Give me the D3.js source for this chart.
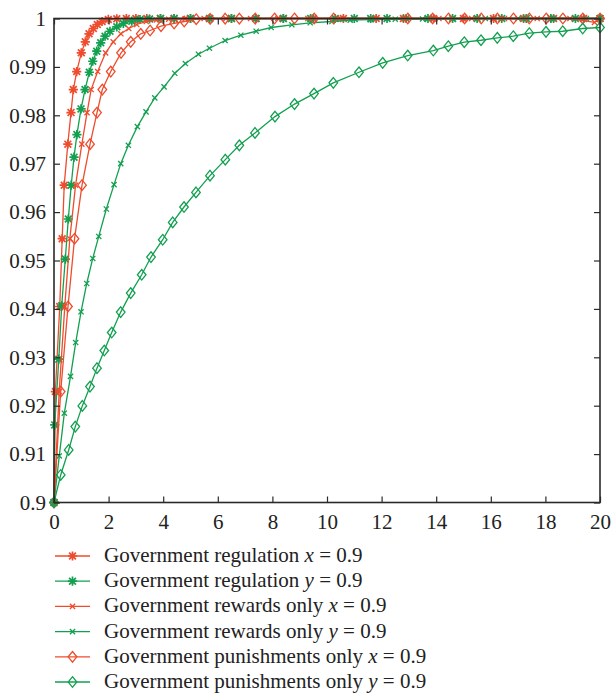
<!DOCTYPE html>
<html>
<head>
<meta charset="utf-8">
<script src="https://cdn.jsdelivr.net/npm/d3@7"></script>
<style>
  body { margin: 0; background: #fff; }
  svg text { font-family: "Liberation Serif", "Times New Roman", serif; fill: #222; }
</style>
</head>
<body>
<div id="chart"></div>
<script>
// values (time t, share v)
const regX_t = [0, 0.05, 0.21, 0.30, 0.374, 0.506, 0.623, 0.708, 0.832, 1.0, 1.147, 1.283, 1.44, 1.587, 1.76, 1.99, 2.3, 2.65, 3.0, 3.4, 3.9, 4.4, 5.0, 5.7, 6.5, 7.4, 8.4, 9.5, 10.6, 11.8, 12.8, 13.9, 15.0, 16.1, 17.2, 18.3, 19.4, 20];
const regX_v = [0.9, 0.92292, 0.9405, 0.9545, 0.96556, 0.97404, 0.98056, 0.98532, 0.98904, 0.99291, 0.99518, 0.99684, 0.99793, 0.99876, 0.99938, 0.9998, 0.99995, 1, 1, 1, 1, 1, 1, 1, 1, 1, 1, 1, 1, 1, 1, 1, 1, 1, 1, 1, 1, 1];

const regY_t = [0, 0.026, 0.176, 0.282, 0.414, 0.524, 0.630, 0.733, 0.839, 0.99, 1.136, 1.294, 1.419, 1.565, 1.71, 1.87, 2.05, 2.30, 2.54, 2.85, 3.15, 3.5, 3.9, 4.4, 5.0, 5.7, 6.5, 7.4, 8.4, 9.4, 10.3, 11.0, 11.6, 12.2, 12.9, 13.7, 14.6, 15.5, 16.4, 17.3, 18.2, 19.1, 20];
const regY_v = [0.9, 0.91603, 0.92962, 0.94064, 0.9503, 0.95857, 0.96556, 0.97135, 0.97601, 0.98132, 0.98532, 0.98889, 0.99117, 0.99324, 0.99498, 0.99634, 0.99737, 0.99828, 0.99897, 0.99944, 0.99979, 0.9999, 1, 1, 1, 1, 1, 1, 1, 1, 1, 1, 1, 1, 1, 1, 1, 1, 1, 1, 1, 1, 1];

const rewX_t = [0, 0.19, 0.395, 0.58, 0.79, 1.02, 1.21, 1.36, 1.6, 1.89, 2.17, 2.45, 2.74, 3.03, 3.38, 3.75, 4.2, 4.8, 5.5, 6.3, 7.2, 8.2, 9.3, 10.5, 11.7, 12.9, 14.1, 15.3, 16.5, 17.7, 18.9, 19.8, 20];
const rewX_v = [0.9, 0.92292, 0.9405, 0.9545, 0.96556, 0.97404, 0.98056, 0.98532, 0.98904, 0.99291, 0.99518, 0.99684, 0.99793, 0.99876, 0.99938, 0.9997, 0.99985, 0.99993, 1, 1, 1, 1, 1, 1, 1, 1, 1, 1, 1, 1, 1, 0.9992, 1];

const rewY_t = [0, 0.194, 0.378, 0.605, 0.795, 0.990, 1.199, 1.419, 1.639, 1.917, 2.199, 2.445, 2.724, 3.054, 3.372, 3.691, 4.032, 4.424, 4.813, 5.29, 5.693, 6.268, 6.844, 7.405, 7.955, 8.713, 9.384, 10.18, 10.85, 11.6, 12.5, 13.5, 14.6, 15.8, 17.0, 18.3, 19.5, 20];
const rewY_v = [0.9, 0.90962, 0.91845, 0.92606, 0.93305, 0.9394, 0.94525, 0.95042, 0.95497, 0.96064, 0.96567, 0.97001, 0.9738, 0.97766, 0.9807, 0.9836, 0.98587, 0.98869, 0.99069, 0.99262, 0.99386, 0.99545, 0.99655, 0.99737, 0.99814, 0.9987, 0.99911, 0.99938, 0.99965, 0.99975, 0.99985, 0.9999, 0.99995, 1, 1, 1, 1, 1];

const punX_t = [0, 0.245, 0.513, 0.752, 1.026, 1.32, 1.576, 1.77, 2.078, 2.456, 2.811, 3.178, 3.52, 3.92, 4.40, 4.77, 5.21, 5.72, 6.27, 6.79, 7.37, 8.08, 8.81, 9.53, 10.24, 12.96, 13.87, 14.45, 15.04, 15.65, 16.24, 16.83, 17.41, 18.03, 18.64, 19.37, 20];
const punX_v = [0.9, 0.92292, 0.9405, 0.9545, 0.96556, 0.97404, 0.98056, 0.98532, 0.98904, 0.99291, 0.99518, 0.99684, 0.99752, 0.99841, 0.99897, 0.99938, 0.99985, 0.99993, 0.99997, 0.99998, 0.99999, 1, 1, 1, 1, 1, 1, 1, 1, 1, 1, 1, 1, 1, 1, 1, 1];

const punY_t = [0, 0.245, 0.538, 0.780, 1.037, 1.319, 1.575, 1.842, 2.114, 2.443, 2.810, 3.212, 3.553, 3.982, 4.348, 4.762, 5.201, 5.714, 6.275, 6.788, 7.363, 8.095, 8.81, 9.524, 10.231, 11.172, 12.04, 12.956, 13.894, 14.443, 15.029, 15.641, 16.238, 16.824, 17.41, 18.022, 18.634, 19.366, 20];
const punY_v = [0.9, 0.90569, 0.91086, 0.91568, 0.91996, 0.92395, 0.92776, 0.9314, 0.93512, 0.93934, 0.94327, 0.94705, 0.95071, 0.95429, 0.95787, 0.96105, 0.96407, 0.96753, 0.97084, 0.9738, 0.97636, 0.97973, 0.98232, 0.98449, 0.9867, 0.98889, 0.99084, 0.99235, 0.99338, 0.99427, 0.9951, 0.99551, 0.99601, 0.99634, 0.99696, 0.99725, 0.99737, 0.99793, 0.99814];

const seriesNames = [
  ["Government regulation ", "x", " = 0.9"],
  ["Government regulation ", "y", " = 0.9"],
  ["Government rewards only ", "x", " = 0.9"],
  ["Government rewards only ", "y", " = 0.9"],
  ["Government punishments only ", "x", " = 0.9"],
  ["Government punishments only ", "y", " = 0.9"]
];
const xTicks = [0, 2, 4, 6, 8, 10, 12, 14, 16, 18, 20];
const yTicks = [0.9, 0.91, 0.92, 0.93, 0.94, 0.95, 0.96, 0.97, 0.98, 0.99, 1];

const red = "#ef4b2d", green = "#12a050";
const series = [
  { t: regX_t, v: regX_v, color: red, marker: "star" },
  { t: regY_t, v: regY_v, color: green, marker: "star" },
  { t: rewX_t, v: rewX_v, color: red, marker: "cross" },
  { t: rewY_t, v: rewY_v, color: green, marker: "cross" },
  { t: punX_t, v: punX_v, color: red, marker: "diamond" },
  { t: punY_t, v: punY_v, color: green, marker: "diamond" }
];

const W = 611, H = 694;
const svg = d3.select("#chart").append("svg").attr("width", W).attr("height", H)
  .attr("font-family", "Liberation Serif, serif");

const x = d3.scaleLinear().domain([0, 20]).range([54, 600]);
const y = d3.scaleLinear().domain([0.9, 1]).range([502.5, 18.5]);

// marker shapes
function markerPath(type) {
  if (type === "star") {
    const r = 4.6, d = 3.4;
    return `M${-r},0H${r}M0,${-r}V${r}M${-d},${-d}L${d},${d}M${-d},${d}L${d},${-d}`;
  }
  if (type === "cross") {
    const r = 2.6;
    return `M${-r},${-r}L${r},${r}M${-r},${r}L${r},${-r}`;
  }
  const w = 4.3, h = 5.3;
  return `M0,${-h}L${w},0L0,${h}L${-w},0Z`;
}

const line = d3.line().x(d => x(d[0])).y(d => y(d[1]));

series.forEach(s => {
  const pts = s.t.map((t, i) => [t, s.v[i]]);
  const g = svg.append("g");
  g.append("path").attr("d", line(pts))
    .attr("fill", "none").attr("stroke", s.color).attr("stroke-width", 1.3);
  g.selectAll("path.m").data(pts).enter().append("path")
    .attr("class", "m")
    .attr("transform", d => `translate(${x(d[0])},${y(d[1])})`)
    .attr("d", markerPath(s.marker))
    .attr("fill", "none").attr("stroke", s.color)
    .attr("stroke-width", s.marker === "star" ? 1.7 : 1.3);
});

// axes and frame
const axisColor = "#2a2a2a";
const xAxis = svg.append("g").attr("transform", `translate(0,${y(0.9)})`)
  .call(d3.axisBottom(x).tickValues(xTicks).tickSize(-6).tickPadding(12).tickFormat(d3.format("d")));
const xAxisTop = svg.append("g").attr("transform", `translate(0,${y(1)})`)
  .call(d3.axisTop(x).tickValues(xTicks).tickSize(-6).tickFormat(""));
const yAxis = svg.append("g").attr("transform", `translate(${x(0)},0)`)
  .call(d3.axisLeft(y).tickValues(yTicks).tickSize(-6).tickPadding(8).tickFormat(d => d === 1 ? "1" : d3.format(".2~f")(d)));
const yAxisRight = svg.append("g").attr("transform", `translate(${x(20)},0)`)
  .call(d3.axisRight(y).tickValues(yTicks).tickSize(-6).tickFormat(""));

[xAxis, xAxisTop, yAxis, yAxisRight].forEach(a => {
  a.attr("font-family", null);
  a.select(".domain").remove();
  a.selectAll(".tick line").attr("stroke", axisColor).attr("stroke-width", 1.2);
  a.selectAll("text").attr("font-size", 21).attr("fill", "#222");
});

svg.append("rect")
  .attr("x", x(0)).attr("y", y(1))
  .attr("width", x(20) - x(0)).attr("height", y(0.9) - y(1))
  .attr("fill", "none").attr("stroke", axisColor).attr("stroke-width", 1.6);

// legend
const legend = svg.append("g");
seriesNames.forEach((name, i) => {
  const ly = 556 + i * 25.2;
  const s = series[i];
  legend.append("line").attr("x1", 55).attr("x2", 90).attr("y1", ly).attr("y2", ly)
    .attr("stroke", s.color).attr("stroke-width", 1.3);
  legend.append("path").attr("transform", `translate(72.5,${ly})`)
    .attr("d", markerPath(s.marker)).attr("fill", "none").attr("stroke", s.color)
    .attr("stroke-width", s.marker === "star" ? 1.7 : 1.3);
  const txt = legend.append("text").attr("x", 104).attr("y", ly + 6).attr("font-size", 21);
  txt.append("tspan").text(name[0]);
  txt.append("tspan").attr("font-style", "italic").text(name[1]);
  txt.append("tspan").text(name[2]);
});
</script>
</body>
</html>
